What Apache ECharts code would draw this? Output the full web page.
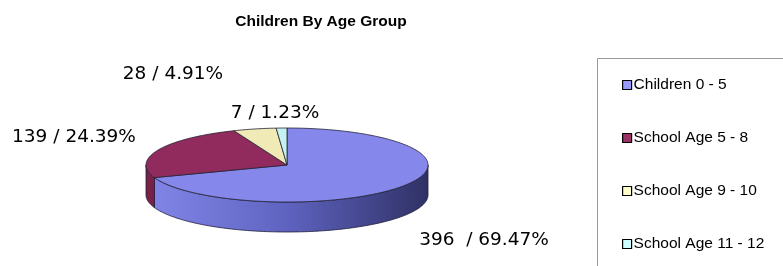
<!DOCTYPE html>
<html>
<head>
<meta charset="utf-8">
<script src="https://cdn.jsdelivr.net/npm/echarts@6/dist/echarts.min.js"></script>
<style>
  html, body { margin: 0; padding: 0; background: #fff; }
  #chart { width: 783px; height: 266px; }
</style>
</head>
<body>
<div id="chart"></div>
<script>
// data
const categories = ['Children 0 - 5', 'School Age 5 - 8', 'School Age 9 - 10', 'School Age 11 - 12'];
const counts = [396, 139, 28, 7];
const labelSep = ['  / ', ' / ', ' / ', ' / '];

// colours
const legendColors = ['#9999ff', '#993366', '#ffffcc', '#ccffff'];
const topColors = ['#8587ea', '#922b5d', '#f0eab6', '#c6f1f1'];
const sideColors = [
  ['#8286e8', '#5f63c0', '#2f3165'],
  ['#7a2149', '#6a1a40', '#5a1436'],
  ['#d8d29a', '#c8c28a', '#b0aa78'],
  ['#a8d6d6', '#98c6c6', '#88b6b6']
];

// pie layout (px)
const cx = 287, cy = 165, rx = 141, ry = 37, depth = 30;
// label centres (px)
const labelAt = [[484, 240], [74, 137], [173, 74], [275, 113]];

const total = counts.reduce((a, b) => a + b, 0);
const starts = [];
let acc = 0;
counts.forEach(v => { starts.push(acc); acc += v; });

const pt = (t, dy) => [cx + rx * Math.sin(t), cy - ry * Math.cos(t) + (dy || 0)];
const arc = (a0, a1, dy) => {
  const n = Math.max(2, Math.ceil((a1 - a0) / 0.02));
  const out = [];
  for (let k = 0; k <= n; k++) out.push(pt(a0 + (a1 - a0) * k / n, dy));
  return out;
};

const renderItem = (params, api) => {
  const i = params.dataIndex;
  const v = api.value(0);
  const a0 = starts[i] / total * Math.PI * 2;
  const a1 = (starts[i] + v) / total * Math.PI * 2;
  const children = [];

  // outer wall, only the front half is visible
  const s0 = Math.max(a0, Math.PI / 2), s1 = Math.min(a1, Math.PI * 3 / 2);
  if (s1 > s0) {
    const pts = arc(s0, s1, 0).concat(arc(s0, s1, depth).reverse());
    children.push({
      type: 'polygon',
      z2: 1,
      shape: { points: pts },
      style: {
        fill: {
          type: 'linear', x: cx - rx, y: 0, x2: cx + rx, y2: 0, global: true,
          colorStops: [
            { offset: 0, color: sideColors[i][0] },
            { offset: 0.5, color: sideColors[i][1] },
            { offset: 1, color: sideColors[i][2] }
          ]
        },
        stroke: '#1e1e3a', lineWidth: 0.8
      }
    });
  }

  // top face
  children.push({
    type: 'polygon',
    z2: 10,
    shape: { points: [[cx, cy]].concat(arc(a0, a1, 0)) },
    style: { fill: topColors[i], stroke: '#222233', lineWidth: 0.8 }
  });

  // data label
  const pct = (v / total * 100).toFixed(2);
  children.push({
    type: 'text',
    z2: 20,
    x: labelAt[i][0], y: labelAt[i][1],
    style: {
      text: v + labelSep[i] + pct + '%',
      fill: '#000',
      font: '18.5px "DejaVu Sans"',
      align: 'center', verticalAlign: 'middle'
    }
  });

  return { type: 'group', children: children };
};

const chart = echarts.init(document.getElementById('chart'));
chart.setOption({
  animation: false,
  title: {
    text: 'Children By Age Group',
    left: 316, top: 9, textAlign: 'center',
    textStyle: { fontFamily: 'Liberation Sans', fontSize: 15.5, fontWeight: 'bold', color: '#000' }
  },
  legend: {
    orient: 'vertical',
    left: 622, top: 77, padding: 0,
    itemWidth: 9, itemHeight: 9, itemGap: 37,
    icon: 'rect',
    selectedMode: false,
    data: categories,
    itemStyle: { borderColor: '#000', borderWidth: 1.2 },
    textStyle: { fontFamily: 'Liberation Sans', fontSize: 15.5, color: '#000', lineHeight: 16, padding: [0, 0, 0, -3] }
  },
  graphic: [{
    type: 'rect',
    shape: { x: 597.5, y: 58.5, width: 300, height: 300 },
    style: { fill: 'none', stroke: '#9a9a9a', lineWidth: 1 }
  }],
  series: [
    {
      type: 'custom',
      coordinateSystem: 'none',
      data: counts.map(v => [v]),
      renderItem: renderItem
    },
    {
      // invisible pie, only feeds the legend
      type: 'pie',
      center: [-50, -50], radius: 1,
      silent: true,
      label: { show: false }, labelLine: { show: false },
      data: categories.map((c, i) => ({ name: c, value: counts[i], itemStyle: { color: legendColors[i] } }))
    }
  ]
});
</script>
</body>
</html>
